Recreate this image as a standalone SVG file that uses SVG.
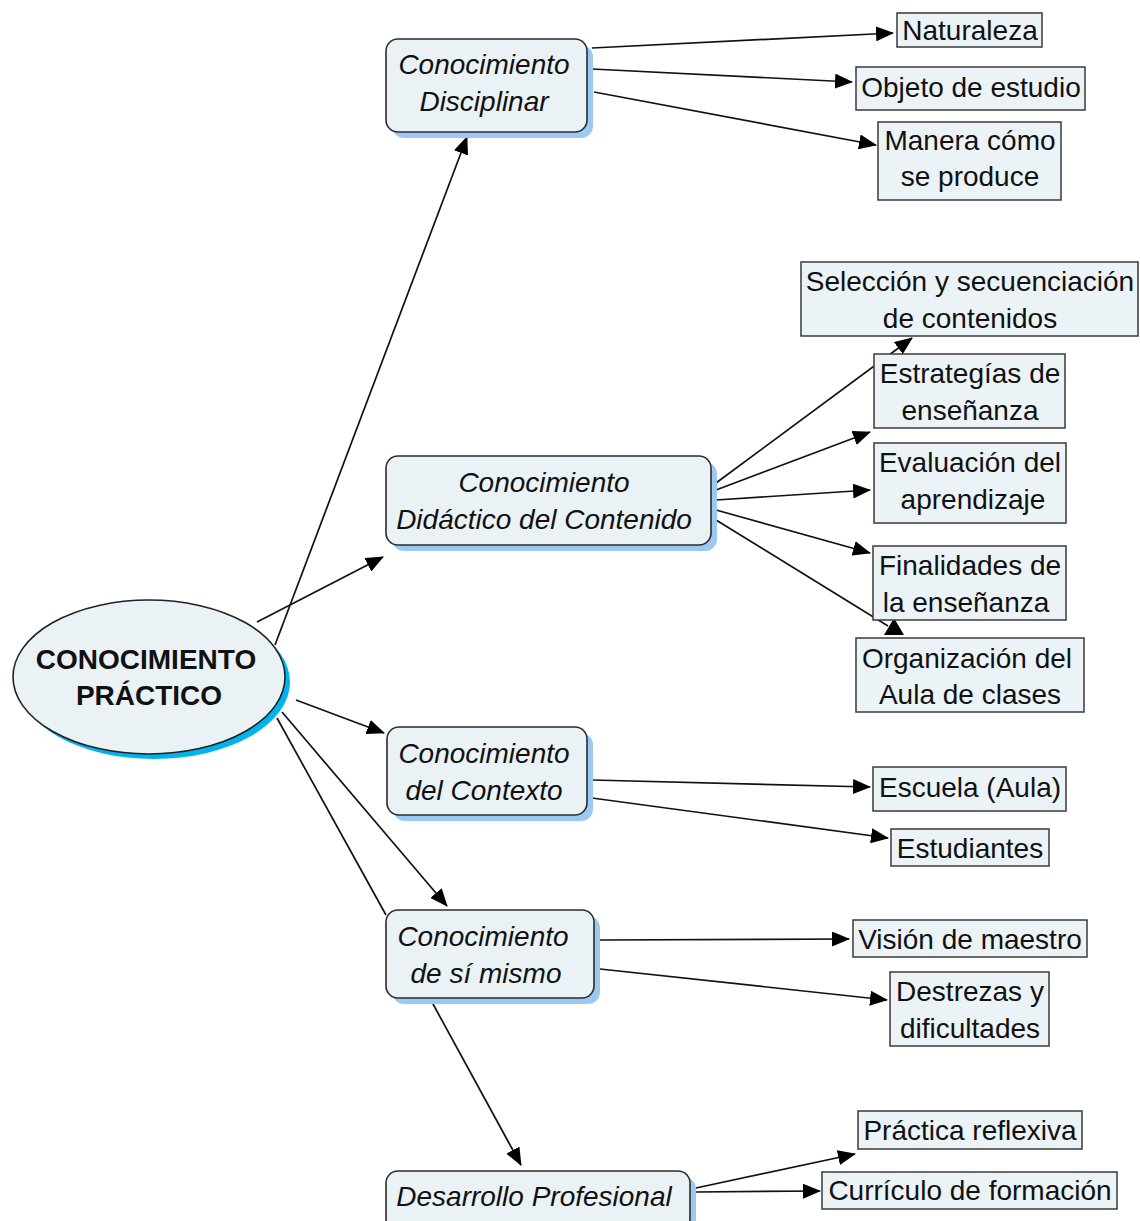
<svg xmlns="http://www.w3.org/2000/svg" width="1140" height="1221" viewBox="0 0 1140 1221">
<defs>
<style>
.rb{fill:#eaf2f6;stroke:#2b2b2b;stroke-width:1.6}
.sh{fill:#9cc9f3}
.lf{fill:#ebf3f7;stroke:#3a3a3a;stroke-width:1.5}
.it{font-family:"Liberation Sans",Arial,sans-serif;font-style:italic;font-size:28px;fill:#111;text-anchor:middle}
.tx{font-family:"Liberation Sans",Arial,sans-serif;font-size:28px;fill:#111;text-anchor:middle}
.bd{font-family:"Liberation Sans",Arial,sans-serif;font-weight:bold;font-size:28px;fill:#111;text-anchor:middle}
.ln{stroke:#111;stroke-width:1.7;fill:none}
.ln2{stroke:#111;stroke-width:1.7;fill:none;marker-end:url(#ah)}
</style>
<marker id="ah" markerWidth="18" markerHeight="15" refX="17" refY="7.5" orient="auto" markerUnits="userSpaceOnUse">
<path d="M0,0 L18,7.5 L0,15 Z" fill="#000"/>
</marker>
</defs>
<rect width="1140" height="1221" fill="#fff"/>

<g id="connectors">
<path class="ln2" d="M275,645 L467,137"/>
<path class="ln2" d="M257,622 L383,557"/>
<path class="ln2" d="M296,700 L384,733"/>
<path class="ln2" d="M282,712 L447,906"/>
<path class="ln" d="M277,718 L386,915"/>
<path class="ln2" d="M433,1004 L521,1165"/>
<path class="ln2" d="M592,48 L893,33"/>
<path class="ln2" d="M592,69 L852,82"/>
<path class="ln2" d="M594,92 L876,145"/>
<path class="ln2" d="M716,483 L912,338"/>
<path class="ln2" d="M716,490 L870,432"/>
<path class="ln2" d="M716,500 L870,490"/>
<path class="ln2" d="M716,510 L870,553"/>
<path class="ln" d="M716,520 L888,626"/>
<polygon points="884,635 904,635 894,618" fill="#000"/>
<path class="ln2" d="M592,780 L870,787"/>
<path class="ln2" d="M592,798 L888,838"/>
<path class="ln2" d="M600,940 L849,939"/>
<path class="ln2" d="M600,969 L887,1000"/>
<path class="ln2" d="M696,1188 L855,1154"/>
<path class="ln2" d="M696,1192 L820,1191"/>
</g>

<g id="n-practico">
<ellipse cx="154" cy="682" rx="136" ry="77" fill="#00b3ef"/>
<ellipse cx="149" cy="677" rx="136" ry="77" fill="#eaf2f6" stroke="#222" stroke-width="1.6"/>
<text class="bd" x="146" y="669">CONOCIMIENTO</text>
<text class="bd" x="149" y="705">PRÁCTICO</text>
</g>

<g id="n-disciplinar">
<rect class="sh" x="392" y="45" width="201" height="93" rx="12"/>
<rect class="rb" x="386" y="39" width="201" height="93" rx="12"/>
<text class="it" x="484" y="74">Conocimiento</text>
<text class="it" x="484" y="111">Disciplinar</text>
</g>

<g id="n-didactico">
<rect class="sh" x="392" y="462" width="325" height="89" rx="12"/>
<rect class="rb" x="386" y="456" width="325" height="89" rx="12"/>
<text class="it" x="544" y="492">Conocimiento</text>
<text class="it" x="544" y="529">Didáctico del Contenido</text>
</g>

<g id="n-contexto">
<rect class="sh" x="393" y="733" width="200" height="88" rx="12"/>
<rect class="rb" x="387" y="727" width="200" height="88" rx="12"/>
<text class="it" x="484" y="763">Conocimiento</text>
<text class="it" x="484" y="800">del Contexto</text>
</g>

<g id="n-simismo">
<rect class="sh" x="392" y="916" width="208" height="88" rx="12"/>
<rect class="rb" x="386" y="910" width="208" height="88" rx="12"/>
<text class="it" x="483" y="946">Conocimiento</text>
<text class="it" x="486" y="983">de sí mismo</text>
</g>

<g id="n-desarrollo">
<rect class="sh" x="392" y="1177" width="304" height="60" rx="12"/>
<rect class="rb" x="386" y="1171" width="304" height="60" rx="12"/>
<text class="it" x="534" y="1206">Desarrollo Profesional</text>
</g>

<g id="n-naturaleza">
<rect class="lf" x="897" y="13" width="145" height="34"/>
<text class="tx" x="970" y="40">Naturaleza</text>
</g>
<g id="n-objeto">
<rect class="lf" x="856" y="67" width="229" height="43"/>
<text class="tx" x="971" y="97">Objeto de estudio</text>
</g>
<g id="n-manera">
<rect class="lf" x="878" y="122" width="183" height="78"/>
<text class="tx" x="970" y="150">Manera cómo</text>
<text class="tx" x="970" y="186">se produce</text>
</g>
<g id="n-seleccion">
<rect class="lf" x="801" y="262" width="337" height="74"/>
<text class="tx" x="970" y="291">Selección y secuenciación</text>
<text class="tx" x="970" y="328">de contenidos</text>
</g>
<g id="n-estrategias">
<rect class="lf" x="874" y="354" width="191" height="74"/>
<text class="tx" x="970" y="383">Estrategías de</text>
<text class="tx" x="970" y="420">enseñanza</text>
</g>
<g id="n-evaluacion">
<rect class="lf" x="874" y="443" width="192" height="80"/>
<text class="tx" x="970" y="472">Evaluación del</text>
<text class="tx" x="973" y="509">aprendizaje</text>
</g>
<g id="n-finalidades">
<rect class="lf" x="873" y="546" width="193" height="74"/>
<text class="tx" x="970" y="575">Finalidades de</text>
<text class="tx" x="966" y="612">la enseñanza</text>
</g>
<g id="n-organizacion">
<rect class="lf" x="856" y="638" width="228" height="74"/>
<text class="tx" x="967" y="668">Organización del</text>
<text class="tx" x="970" y="704">Aula de clases</text>
</g>
<g id="n-escuela">
<rect class="lf" x="873" y="767" width="193" height="44"/>
<text class="tx" x="970" y="797">Escuela (Aula)</text>
</g>
<g id="n-estudiantes">
<rect class="lf" x="891" y="829" width="158" height="37"/>
<text class="tx" x="970" y="858">Estudiantes</text>
</g>
<g id="n-vision">
<rect class="lf" x="853" y="920" width="234" height="37"/>
<text class="tx" x="970" y="949">Visión de maestro</text>
</g>
<g id="n-destrezas">
<rect class="lf" x="890" y="972" width="159" height="74"/>
<text class="tx" x="970" y="1001">Destrezas y</text>
<text class="tx" x="970" y="1038">dificultades</text>
</g>
<g id="n-practica">
<rect class="lf" x="858" y="1111" width="224" height="38"/>
<text class="tx" x="970" y="1140">Práctica reflexiva</text>
</g>
<g id="n-curriculo">
<rect class="lf" x="822" y="1172" width="295" height="37"/>
<text class="tx" x="970" y="1200">Currículo de formación</text>
</g>
</svg>
